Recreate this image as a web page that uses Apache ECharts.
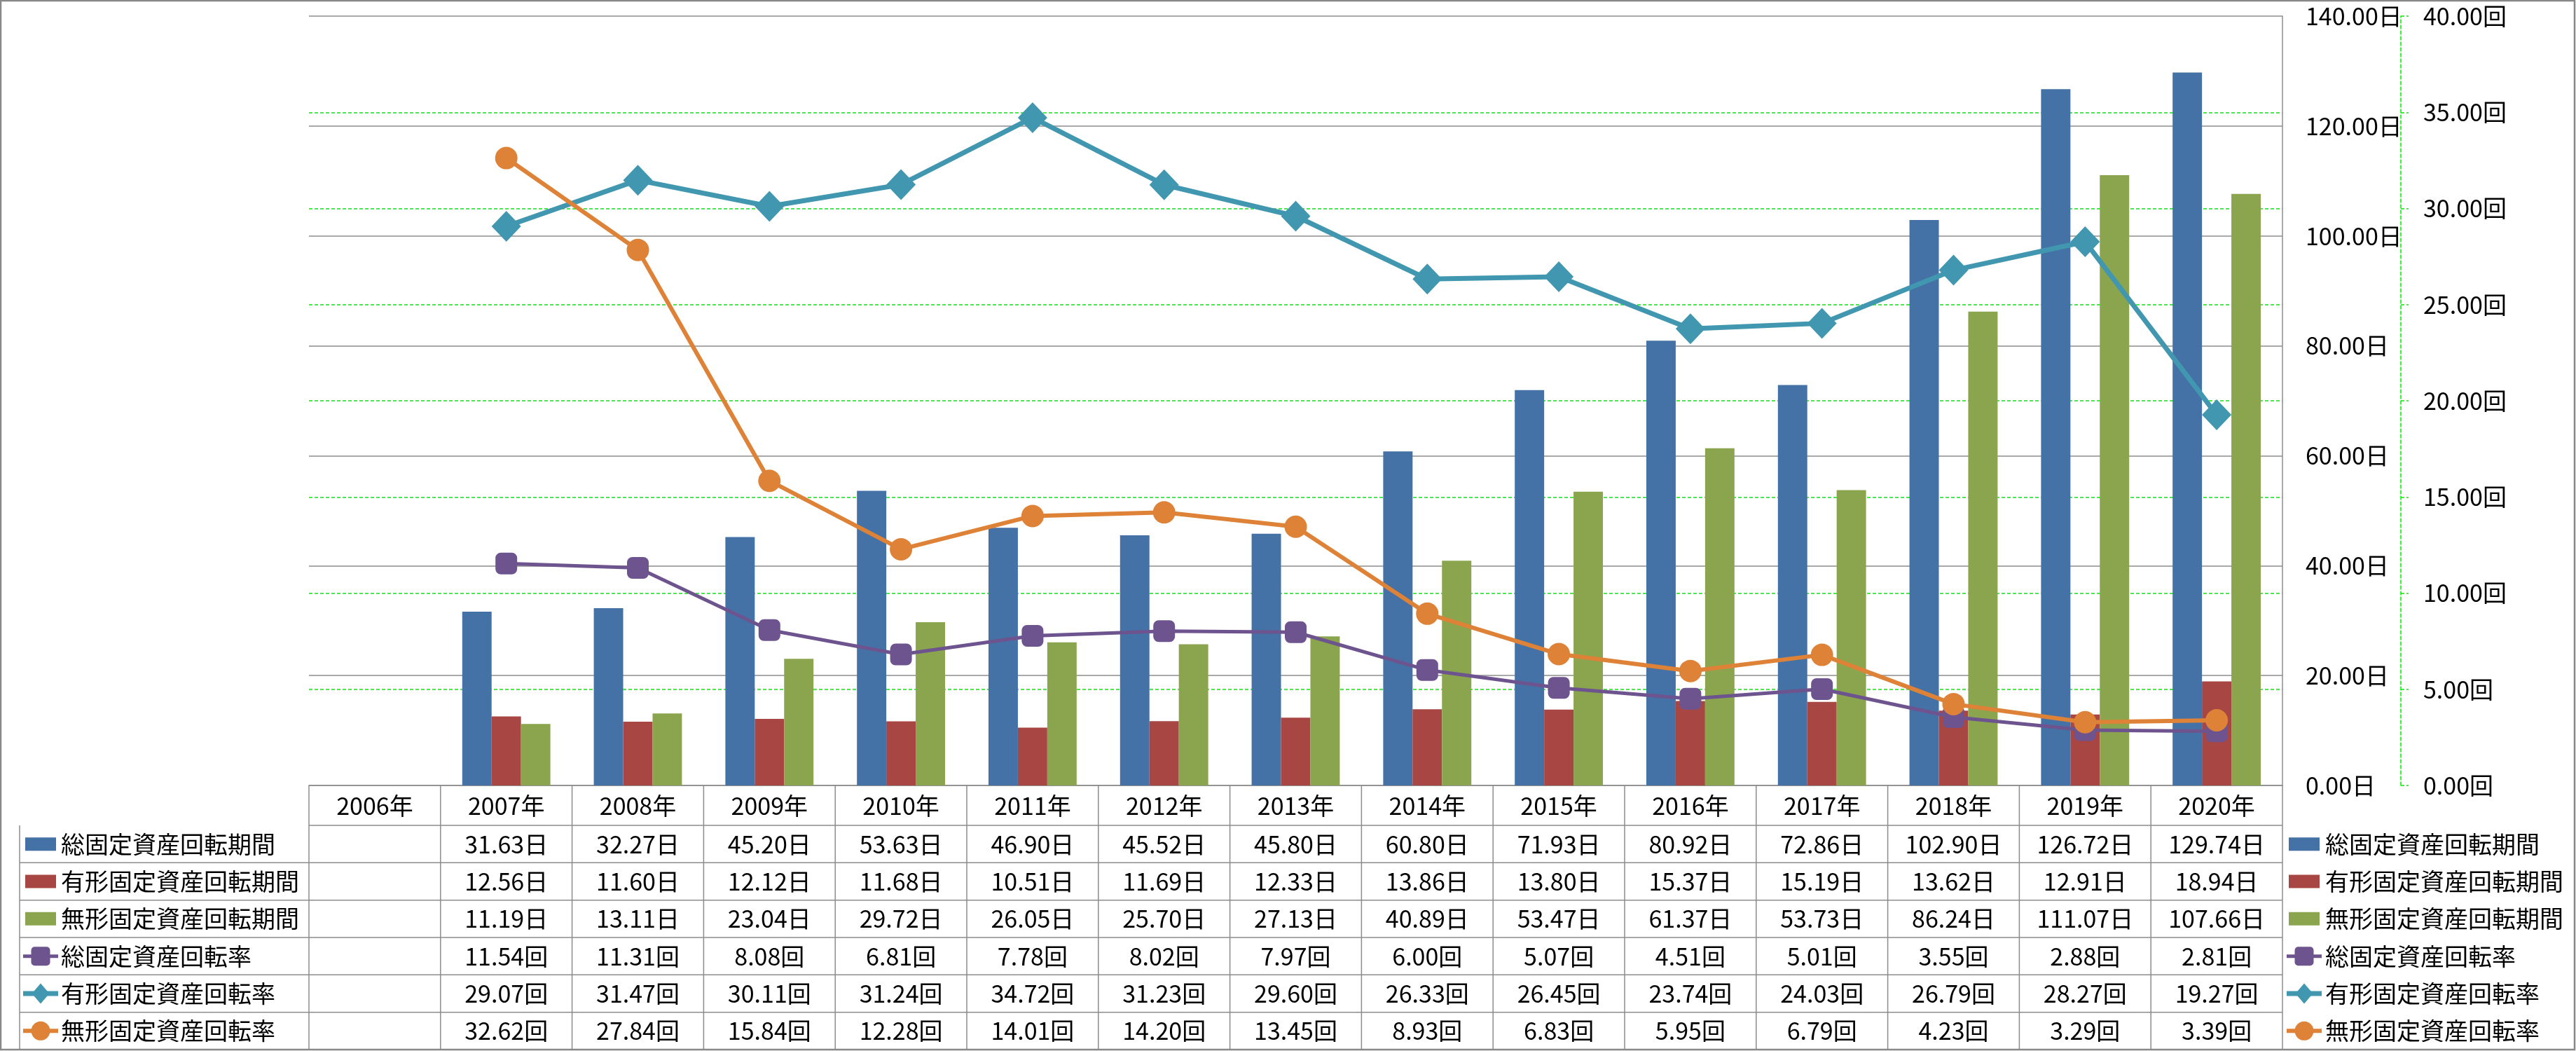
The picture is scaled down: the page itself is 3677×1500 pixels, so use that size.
<!DOCTYPE html>
<html><head><meta charset="utf-8">
<script src="https://cdn.jsdelivr.net/npm/echarts@6/dist/echarts.min.js"></script>
<style>html,body{margin:0;padding:0;background:#fff}#c{width:3677px;height:1500px}</style>
</head><body><div id="c"></div>
<script>
// ---- data ----
const years = ['2006年','2007年','2008年','2009年','2010年','2011年','2012年','2013年','2014年','2015年','2016年','2017年','2018年','2019年','2020年'];
const totalPeriod      = [null, 31.63, 32.27, 45.20, 53.63, 46.90, 45.52, 45.80, 60.80, 71.93, 80.92, 72.86, 102.90, 126.72, 129.74];
const tangiblePeriod   = [null, 12.56, 11.60, 12.12, 11.68, 10.51, 11.69, 12.33, 13.86, 13.80, 15.37, 15.19, 13.62, 12.91, 18.94];
const intangiblePeriod = [null, 11.19, 13.11, 23.04, 29.72, 26.05, 25.70, 27.13, 40.89, 53.47, 61.37, 53.73, 86.24, 111.07, 107.66];
const totalTurnover      = [null, 11.54, 11.31, 8.08, 6.81, 7.78, 8.02, 7.97, 6.00, 5.07, 4.51, 5.01, 3.55, 2.88, 2.81];
const tangibleTurnover   = [null, 29.07, 31.47, 30.11, 31.24, 34.72, 31.23, 29.60, 26.33, 26.45, 23.74, 24.03, 26.79, 28.27, 19.27];
const intangibleTurnover = [null, 32.62, 27.84, 15.84, 12.28, 14.01, 14.20, 13.45, 8.93, 6.83, 5.95, 6.79, 4.23, 3.29, 3.39];
const seriesNames = ['総固定資産回転期間','有形固定資産回転期間','無形固定資産回転期間','総固定資産回転率','有形固定資産回転率','無形固定資産回転率'];
const seriesUnits = ['日','日','日','回','回','回'];
const dayAxisTicks  = {min: 0, max: 140, interval: 20};
const timeAxisTicks = {min: 0, max: 40, interval: 5};

// ---- styles ----
const colors = ['#4572A6', '#A84644', '#8AA54E', '#6D548E', '#4197AF', '#DD8237'];
const FONT = '"Noto Sans CJK JP", "Noto Sans", sans-serif';
const FS = 34;
const G = {left: 441, right: 419, top: 23, bottom: 379};
const W = 3677, H = 1500;

const chart = echarts.init(document.getElementById('c'), null, {renderer: 'canvas'});
const allData = [totalPeriod, tangiblePeriod, intangiblePeriod, totalTurnover, tangibleTurnover, intangibleTurnover];
const lineSpecs = [
  {symbol: 'roundRect', symbolSize: 31, width: 5},
  {symbol: 'diamond', symbolSize: [42, 44], width: 7},
  {symbol: 'circle', symbolSize: 32, width: 6}
];

// yAxis 0 = 回 (green dashed grid), yAxis 1 = 日 (grey grid drawn on top via z)
const series = allData.map((d, i) => {
  if (i < 3) {
    return {name: seriesNames[i], type: 'bar', yAxisIndex: 1, data: d,
      barGap: '0%', barCategoryGap: '33%', itemStyle: {color: colors[i]}};
  }
  const s = lineSpecs[i - 3];
  return {name: seriesNames[i], type: 'line', yAxisIndex: 0, data: d,
    symbol: s.symbol, symbolSize: s.symbolSize, showAllSymbol: true,
    lineStyle: {color: colors[i], width: s.width},
    itemStyle: {color: colors[i]}, z: 3};
});

const green = {color: '#00ee00', width: 1.5, type: [5, 3]};
chart.setOption({
  animation: false,
  backgroundColor: '#fff',
  textStyle: {fontFamily: FONT},
  grid: Object.assign({outerBoundsMode: 'none', containLabel: false}, G),
  xAxis: {type: 'category', data: years, boundaryGap: true, z: 1,
    axisLine: {lineStyle: {color: '#8c8c8c', width: 1.5}},
    axisTick: {show: false}, axisLabel: {show: false}, splitLine: {show: false}},
  yAxis: [
    {type: 'value', position: 'right', offset: 169, z: 0,
      min: timeAxisTicks.min, max: timeAxisTicks.max, interval: timeAxisTicks.interval,
      axisLine: {show: true, lineStyle: green},
      axisTick: {show: true, length: 11, lineStyle: green},
      axisLabel: {margin: 32, fontSize: FS, color: '#000', fontFamily: FONT,
        formatter: v => v.toFixed(2) + '回'},
      splitLine: {show: true, showMinLine: false, showMaxLine: false, lineStyle: green}},
    {type: 'value', position: 'right', offset: 0, z: 1,
      min: dayAxisTicks.min, max: dayAxisTicks.max, interval: dayAxisTicks.interval,
      axisLine: {show: true, lineStyle: {color: '#8c8c8c', width: 1.5}},
      axisTick: {show: false},
      axisLabel: {margin: 33, fontSize: FS, color: '#000', fontFamily: FONT,
        formatter: v => v.toFixed(2) + '日'},
      splitLine: {show: true, lineStyle: {color: '#8c8c8c', width: 1.5}}}
  ],
  series: series
});

// ---- data table & legends built from the same arrays, positioned via the axis scale ----
const cx = i => chart.convertToPixel({xAxisIndex: 0}, i);
const band = cx(1) - cx(0);
const plotBottom = H - G.bottom;
const plotRight = W - G.right;
const headerH = 57;
const rowH = (H - 2 - plotBottom - headerH) / 6;
const tableLeft = 28;
const lineColor = '#8c8c8c';
const els = [];
const font = FS + 'px ' + FONT;

function hline(x1, x2, y) { els.push({type: 'line', silent: true, shape: {x1, y1: y, x2, y2: y}, style: {stroke: lineColor, lineWidth: 1.5}}); }
function vline(x, y1, y2) { els.push({type: 'line', silent: true, shape: {x1: x, y1, x2: x, y2}, style: {stroke: lineColor, lineWidth: 1.5}}); }
function text(t, x, y, align) { els.push({type: 'text', silent: true, style: {text: t, x, y, font, fill: '#000', align, verticalAlign: 'middle'}}); }
function key(i, x0, x1, cy) {
  const c = colors[i];
  if (i < 3) {
    els.push({type: 'rect', silent: true, shape: {x: x0 + 3, y: cy - 9.5, width: x1 - x0 - 6, height: 19}, style: {fill: c}});
    return;
  }
  const s = lineSpecs[i - 3];
  els.push({type: 'line', silent: true, shape: {x1: x0, y1: cy, x2: x1, y2: cy}, style: {stroke: c, lineWidth: s.width}});
  const mx = (x0 + x1) / 2, r = 13.5;
  if (s.symbol === 'roundRect') els.push({type: 'rect', silent: true, shape: {x: mx - r, y: cy - r, width: 2 * r, height: 2 * r, r: 5}, style: {fill: c}});
  else if (s.symbol === 'diamond') els.push({type: 'polygon', silent: true, shape: {points: [[mx, cy - r - 1], [mx + r - 1, cy], [mx, cy + r + 1], [mx - r + 1, cy]]}, style: {fill: c}});
  else els.push({type: 'circle', silent: true, shape: {cx: mx, cy: cy, r: r}, style: {fill: c}});
}

const leftEdge = cx(0) - band / 2;
// header row
hline(leftEdge, plotRight, plotBottom + headerH);
years.forEach((y, i) => text(y, cx(i), plotBottom + headerH / 2 + 1, 'center'));
// boundaries
for (let i = 0; i <= years.length; i++) vline(leftEdge + i * band, plotBottom, H - 2);
vline(tableLeft, plotBottom + headerH, H - 2);
// data rows
for (let r = 0; r < 6; r++) {
  const top = plotBottom + headerH + r * rowH;
  const cy = top + rowH / 2;
  hline(tableLeft, plotRight, top + rowH);
  key(r, 33, 83, cy);
  text(seriesNames[r], 87, cy, 'left');
  allData[r].forEach((v, i) => { if (v !== null) text(v.toFixed(2) + seriesUnits[r], cx(i), cy, 'center'); });
  // right legend
  key(r, 3264, 3314, cy);
  text(seriesNames[r], 3319, cy, 'left');
}
// outer border
els.push({type: 'rect', silent: true, shape: {x: 1, y: 1, width: W - 3, height: H - 3}, style: {fill: 'none', stroke: '#888', lineWidth: 2.5}, z: 100});

chart.setOption({graphic: {elements: els}});
</script></body></html>
